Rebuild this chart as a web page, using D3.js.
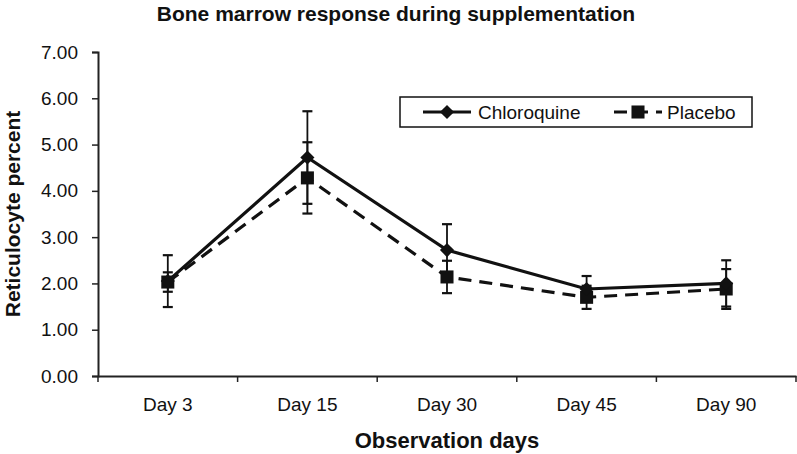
<!DOCTYPE html>
<html><head><meta charset="utf-8">
<script src="https://cdn.jsdelivr.net/npm/d3@7"></script>
<style>body{margin:0;background:#fff}svg{display:block}text{font-family:"Liberation Sans",Arial,sans-serif;fill:#111}</style>
</head><body><svg id="c" width="797" height="454"></svg>
<script>
const categories = ["Day 3","Day 15","Day 30","Day 45","Day 90"];
const chloroquine = [2.05, 4.72, 2.72, 1.88, 2.00];
const chloroquineErr = [0.56, 1.00, 0.56, 0.28, 0.50];
const placebo = [2.03, 4.28, 2.14, 1.70, 1.88];
const placeboErr = [0.21, 0.77, 0.35, 0.25, 0.43];
const yTicks = [0,1,2,3,4,5,6,7];
const seriesNames = ["Chloroquine","Placebo"];

const L=98, R=796, T=52, B=376;
const svg=d3.select("#c");
const x=d3.scaleBand().domain(categories).range([L,R]);
const y=d3.scaleLinear().domain([0,7]).range([B,T]);

svg.append("text").attr("x",396).attr("y",21).attr("text-anchor","middle")
  .attr("font-size",21).attr("font-weight","bold").text("Bone marrow response during supplementation");

const ya=svg.append("g").attr("transform",`translate(${L},0)`)
  .call(d3.axisLeft(y).tickValues(yTicks).tickFormat(d3.format(".2f")).tickSize(6).tickPadding(14));
ya.select(".domain").attr("stroke","#222").attr("stroke-width",2);
ya.selectAll(".tick line").attr("stroke","#222").attr("stroke-width",1.5);
ya.selectAll(".tick text").attr("font-size",19).attr("font-family","Liberation Sans, Arial").attr("fill","#111");

const xa=svg.append("g").attr("transform",`translate(0,${B})`)
  .call(d3.axisBottom(x).tickSize(0).tickPadding(22));
xa.select(".domain").attr("stroke","#222").attr("stroke-width",2);
xa.selectAll(".tick text").attr("font-size",19).attr("font-family","Liberation Sans, Arial").attr("fill","#111");
const bounds=categories.map(c=>x(c)).concat([x(categories[categories.length-1])+x.bandwidth()]);
svg.append("g").selectAll("line").data(bounds).join("line")
  .attr("x1",d=>d).attr("x2",d=>d).attr("y1",B).attr("y2",B+6)
  .attr("stroke","#222").attr("stroke-width",1.5);

svg.append("text").attr("transform",`translate(20,${(T+B)/2}) rotate(-90)`).attr("text-anchor","middle")
  .attr("font-size",21).attr("font-weight","bold").text("Reticulocyte percent");
svg.append("text").attr("x",(L+R)/2).attr("y",448).attr("text-anchor","middle")
  .attr("font-size",22).attr("font-weight","bold").text("Observation days");

const cx=c=>x(c)+x.bandwidth()/2;
const line=d3.line().x((d,i)=>cx(categories[i])).y(d=>y(d));

function errBars(vals,errs){
  const g=svg.append("g").attr("stroke","#111").attr("stroke-width",1.8);
  vals.forEach((v,i)=>{
    const X=cx(categories[i]);
    g.append("line").attr("x1",X).attr("x2",X).attr("y1",y(v+errs[i])).attr("y2",y(v-errs[i]));
    [v+errs[i],v-errs[i]].forEach(e=>g.append("line").attr("x1",X-5).attr("x2",X+5).attr("y1",y(e)).attr("y2",y(e)).attr("stroke-width",2.2));
  });
}
errBars(placebo,placeboErr);
errBars(chloroquine,chloroquineErr);

svg.append("path").datum(placebo).attr("d",line).attr("fill","none").attr("stroke","#111")
  .attr("stroke-width",3.2).attr("stroke-dasharray","13,8");
svg.append("path").datum(chloroquine).attr("d",line).attr("fill","none").attr("stroke","#111")
  .attr("stroke-width",3.2);

const diamondType={draw(ctx,size){const r=Math.sqrt(size)/2;ctx.moveTo(0,-r);ctx.lineTo(r,0);ctx.lineTo(0,r);ctx.lineTo(-r,0);ctx.closePath();}};
const sq=d3.symbol().type(d3.symbolSquare).size(170);
const dm=d3.symbol().type(diamondType).size(200);
svg.append("g").selectAll("path").data(placebo).join("path")
  .attr("d",sq).attr("transform",(d,i)=>`translate(${cx(categories[i])},${y(d)})`).attr("fill","#111");
svg.append("g").selectAll("path").data(chloroquine).join("path")
  .attr("d",dm).attr("transform",(d,i)=>`translate(${cx(categories[i])},${y(d)})`).attr("fill","#111");

const lg=svg.append("g");
const ly=112;
lg.append("rect").attr("x",400).attr("y",97).attr("width",352).attr("height",30)
  .attr("fill","#fff").attr("stroke","#111").attr("stroke-width",1.5);
lg.append("line").attr("x1",423).attr("x2",471).attr("y1",ly).attr("y2",ly).attr("stroke","#111").attr("stroke-width",3.2);
lg.append("path").attr("d",dm).attr("transform",`translate(447,${ly})`).attr("fill","#111");
lg.append("text").attr("x",478).attr("y",ly+7).attr("font-size",19).text(seriesNames[0]);
lg.append("line").attr("x1",614).attr("x2",662).attr("y1",ly).attr("y2",ly).attr("stroke","#111").attr("stroke-width",3.2).attr("stroke-dasharray","13,8");
lg.append("path").attr("d",sq).attr("transform",`translate(638,${ly})`).attr("fill","#111");
lg.append("text").attr("x",667).attr("y",ly+7).attr("font-size",19).text(seriesNames[1]);
</script></body></html>
